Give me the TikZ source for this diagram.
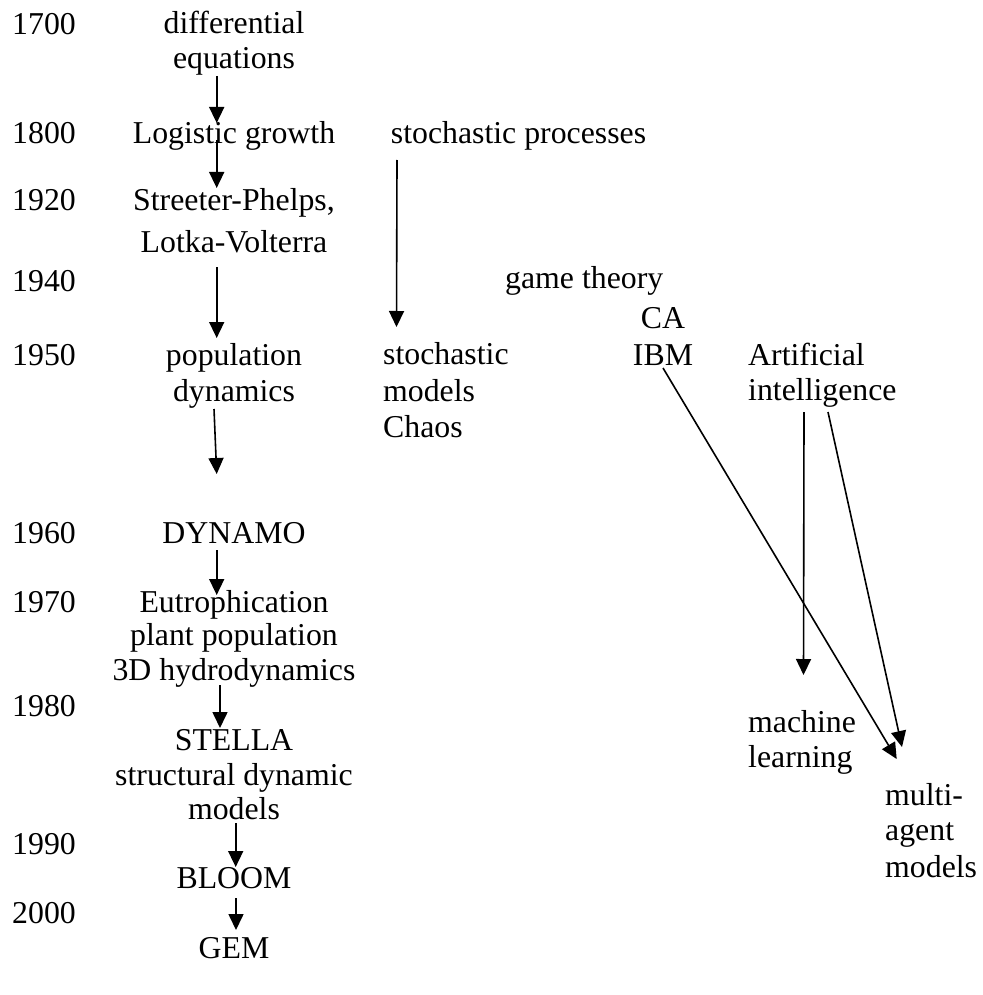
\documentclass[tikz,border=0pt]{standalone}
\usepackage{fontspec}
\setmainfont{Liberation Serif}
\usetikzlibrary{arrows.meta,calc}
\begin{document}
\begin{tikzpicture}[x=1pt,y=-1pt,
  txt/.style={font=\fontsize{31.8}{36}\selectfont, inner sep=0pt},
  yr/.style={txt, anchor=base west},
  mid/.style={txt, anchor=base},
  lft/.style={txt, anchor=base west},
  arr/.style={line width=1.6pt, -{Triangle[length=16pt,width=15pt]}}]
\useasboundingbox (0,0) rectangle (982,995);

% time axis
\node[yr] (y1700) at (12,34.5) {1700};
\node[yr] (y1800) at (12,144) {1800};
\node[yr] (y1920) at (12,210) {1920};
\node[yr] (y1940) at (12,291) {1940};
\node[yr] (y1950) at (12,365) {1950};
\node[yr] (y1960) at (12,543) {1960};
\node[yr] (y1970) at (12,612) {1970};
\node[yr] (y1980) at (12,716) {1980};
\node[yr] (y1990) at (12,854) {1990};
\node[yr] (y2000) at (12,923) {2000};

% deterministic modelling line
\node[mid] (diff1) at (234,33.5) {differential};
\node[mid] (diff2) at (234,68.5) {equations};
\node[mid] (logi) at (234,144) {Logistic growth};
\node[mid] (sp) at (234,210) {Streeter-Phelps,};
\node[mid] (lv) at (234,252) {Lotka-Volterra};
\node[mid] (pop1) at (234,365) {population};
\node[mid] (pop2) at (234,401.7) {dynamics};
\coordinate (popend) at (216.7,474);
\node[mid] (dyn) at (234,543) {DYNAMO};
\node[mid] (eut1) at (234,612) {Eutrophication};
\node[mid] (eut2) at (234,645.5) {plant population};
\node[mid] (eut3) at (234,680) {3D hydrodynamics};
\node[mid] (st1) at (234,750) {STELLA};
\node[mid] (st2) at (234,785) {structural dynamic};
\node[mid] (st3) at (234,819) {models};
\node[mid] (bloom) at (234,888) {BLOOM};
\node[mid] (gem) at (234,958) {GEM};

% stochastic line
\node[lft] (sproc) at (390.7,144) {stochastic processes};
\node[lft] (sm1) at (383,364) {stochastic};
\node[lft] (sm2) at (383,401) {models};
\node[lft] (sm3) at (383,437) {Chaos};

% individual based and AI lines
\node[lft] (game) at (505,288) {game theory};
\node[mid] (ca) at (663,328) {CA};
\node[mid] (ibm) at (663,365) {IBM};
\node[lft] (ai1) at (748,365) {Artificial};
\node[lft] (ai2) at (748,400) {intelligence};
\node[lft] (ml1) at (748,732) {machine};
\node[lft] (ml2) at (748,767) {learning};
\node[lft] (ma1) at (885,805) {multi-};
\node[lft] (ma2) at (885,840) {agent};
\node[lft] (ma3) at (885,877) {models};

% connectors
\draw[arr] ($(diff2.base)+(-17.3,7.5)$) -- ($(logi.base)+(-17.3,-21)$);
\draw[arr] ($(logi.base)+(-17.3,-4)$) -- ($(sp.base)+(-17.3,-22)$);
\draw[arr] ($(lv.base)+(-17.3,15)$) -- ($(pop1.base)+(-17.3,-27)$);
\draw[arr] ($(pop2.base)+(-20,7.3)$) -- (popend);
\draw[arr] ($(dyn.base)+(-17.3,7)$) -- ($(eut1.base)+(-17.3,-17)$);
\draw[arr] ($(eut3.base)+(-14,5)$) -- ($(st1.base)+(-14,-22)$);
\draw[arr] ($(st3.base)+(1.7,4)$) -- ($(bloom.base)+(1.7,-21)$);
\draw[arr] ($(bloom.base)+(2,10)$) -- ($(gem.base)+(2,-28)$);
\draw[arr] ($(sproc.base west)+(6.3,16)$) -- ($(sm1.base west)+(13.5,-37)$);
\draw[arr] ($(ibm.base)+(0,3)$) -- ($(ma1.base west)+(11.7,-46)$);
\draw[arr] ($(ai2.base west)+(56,12)$) -- ($(ml1.base west)+(55.5,-57)$);
\draw[arr] ($(ai2.base west)+(80,12)$) -- ($(ma1.base west)+(17,-58)$);
\end{tikzpicture}
\end{document}
